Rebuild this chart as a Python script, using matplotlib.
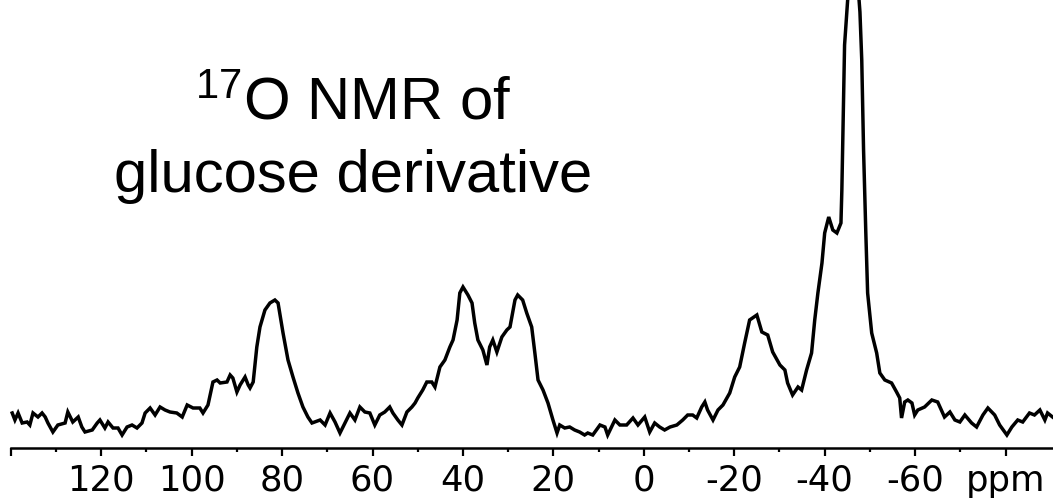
import matplotlib
matplotlib.use("Agg")
import matplotlib.pyplot as plt
from matplotlib.ticker import FixedLocator, FixedFormatter

# spectrum: chemical shift (ppm) and intensity (a.u.)
shift_ppm = [
    139.7, 139.1, 138.4, 137.5, 136.4, 135.8, 135.1, 134.0, 133.1, 132.4,
    131.8, 130.7, 129.6, 128.0, 127.4, 126.3, 125.1, 124.3, 123.6, 122.0,
    120.9, 120.3, 119.2, 118.5, 117.4, 116.3, 115.4, 114.3, 113.2, 112.1,
    111.0, 110.3, 109.2, 108.1, 107.0, 105.9, 104.8, 103.3, 102.1, 101.0,
    99.7, 98.2, 97.5, 96.4, 95.3, 94.4, 93.7, 92.2, 91.5, 90.9,
    90.0, 89.3, 88.2, 87.5, 87.1, 86.4, 85.6, 84.9, 83.8, 82.7,
    81.6, 80.9, 79.8, 78.7, 77.6, 76.5, 75.4, 74.3, 73.4, 71.6,
    70.5, 69.4, 68.3, 67.2, 66.1, 65.0, 63.9, 62.8, 61.7, 60.6,
    59.5, 58.4, 57.3, 56.2, 55.5, 54.4, 53.5, 52.4, 51.3, 50.6,
    50.0, 48.9, 48.0, 46.9, 46.2, 45.1, 44.0, 42.9, 42.2, 41.3,
    40.7, 40.0, 38.9, 38.0, 37.4, 36.7, 35.6, 34.7, 34.1, 33.4,
    32.5, 31.4, 30.3, 29.6, 28.5, 27.9, 26.8, 25.9, 24.8, 24.1,
    23.4, 22.3, 21.2, 20.1, 19.2, 18.6, 17.5, 16.4, 15.3, 14.2,
    13.1, 12.4, 11.3, 9.7, 8.6, 8.0, 6.4, 5.3, 3.8, 2.4,
    1.3, -0.2, -1.3, -2.4, -3.5, -4.6, -5.8, -7.3, -8.6, -9.7,
    -10.8, -11.7, -12.8, -13.5, -14.1, -15.3, -16.4, -17.5, -19.0, -20.1,
    -21.2, -22.3, -23.4, -25.0, -26.1, -27.4, -28.5, -30.1, -31.2, -31.8,
    -32.9, -34.1, -34.9, -36.0, -37.1, -37.8, -38.5, -39.4, -40.0, -40.9,
    -41.8, -42.7, -43.6, -43.8, -44.0, -44.2, -44.4, -44.9, -46.3, -47.8,
    -48.2, -48.6, -49.1, -49.5, -50.4, -51.5, -52.2, -53.3, -54.8, -55.9,
    -56.6, -57.0, -57.7, -58.4, -59.3, -59.9, -60.6, -62.1, -63.7, -65.0,
    -66.5, -67.7, -68.8, -69.9, -71.0, -72.5, -73.6, -75.0, -76.1, -77.6,
    -78.7, -80.3, -81.4, -82.7, -83.8, -85.3, -86.4, -87.6, -88.7, -89.3,
    -90.4,
]
intensity = [
    35, 28, 35, 25, 26, 23, 35, 31, 35, 31,
    25, 16, 23, 25, 36, 26, 31, 21, 16, 18,
    25, 28, 20, 26, 20, 20, 13, 21, 23, 20,
    25, 35, 40, 33, 41, 38, 36, 35, 31, 43,
    40, 40, 35, 43, 66, 68, 65, 66, 73, 70,
    56, 63, 71, 63, 60, 66, 101, 121, 138, 145,
    148, 145, 115, 88, 71, 55, 41, 31, 25, 28,
    23, 35, 26, 15, 25, 35, 28, 41, 36, 35,
    23, 33, 36, 41, 35, 28, 23, 36, 41, 45,
    50, 58, 66, 66, 61, 81, 88, 101, 108, 128,
    155, 161, 153, 145, 125, 108, 98, 83, 101, 108,
    96, 111, 118, 121, 148, 153, 148, 135, 121, 95,
    68, 58, 45, 28, 15, 23, 20, 21, 18, 16,
    13, 15, 13, 23, 21, 13, 28, 23, 23, 30,
    23, 31, 16, 25, 21, 18, 21, 23, 28, 33,
    33, 30, 41, 46, 38, 28, 38, 43, 55, 71,
    81, 105, 128, 133, 116, 113, 96, 83, 78, 65,
    53, 61, 58, 78, 95, 128, 155, 185, 215, 231,
    218, 215, 225, 258, 308, 358, 403, 436, 528, 436,
    388, 298, 215, 155, 115, 95, 75, 68, 65, 56,
    50, 30, 46, 48, 45, 33, 38, 41, 48, 46,
    31, 36, 28, 26, 33, 25, 21, 33, 40, 33,
    23, 13, 21, 28, 26, 35, 33, 38, 28, 35,
    31,
]

major_ticks = [140, 120, 100, 80, 60, 40, 20, 0, -20, -40, -60, -80]
major_labels = ["", "120", "100", "80", "60", "40", "20", "0", "-20", "-40", "-60", "ppm"]
minor_ticks = [130, 110, 90, 70, 50, 30, 10, -10, -30, -50, -70]
title_lines = [r"$^{17}$O NMR of", "glucose derivative"]

plt.rcParams["mathtext.fontset"] = "custom"
plt.rcParams["mathtext.rm"] = "Liberation Sans"
plt.rcParams["mathtext.default"] = "regular"

fig = plt.figure(figsize=(10.53, 4.98), dpi=100)
ax = fig.add_axes([0.0, 50 / 498, 1.0, 448 / 498])

ax.plot(shift_ppm, intensity, color="black", lw=2.5, solid_joinstyle="miter")

# reversed shift axis, as usual for NMR
ax.set_xlim(142.4, -90.5)
ax.set_ylim(0, 448)

for side in ["left", "right", "top"]:
    ax.spines[side].set_visible(False)
ax.spines["bottom"].set_linewidth(1.8)
ax.spines["bottom"].set_bounds(140, -90.5)
ax.set_yticks([])

ax.xaxis.set_major_locator(FixedLocator(major_ticks))
ax.xaxis.set_major_formatter(FixedFormatter(major_labels))
ax.xaxis.set_minor_locator(FixedLocator(minor_ticks))
ax.tick_params(axis="x", which="major", direction="out", length=5.5, width=1.6, pad=6,
               labelsize=25.5)
ax.tick_params(axis="x", which="minor", direction="out", length=3, width=1.6)
for lab in ax.get_xticklabels():
    lab.set_fontfamily("DejaVu Sans")

fig.text(353 / 1053, 1 - 120 / 498, title_lines[0], ha="center", va="baseline",
         fontsize=43, family="Liberation Sans")
fig.text(353 / 1053, 1 - 192 / 498, title_lines[1], ha="center", va="baseline",
         fontsize=43, family="Liberation Sans")

fig.savefig("out.png", dpi=100)
